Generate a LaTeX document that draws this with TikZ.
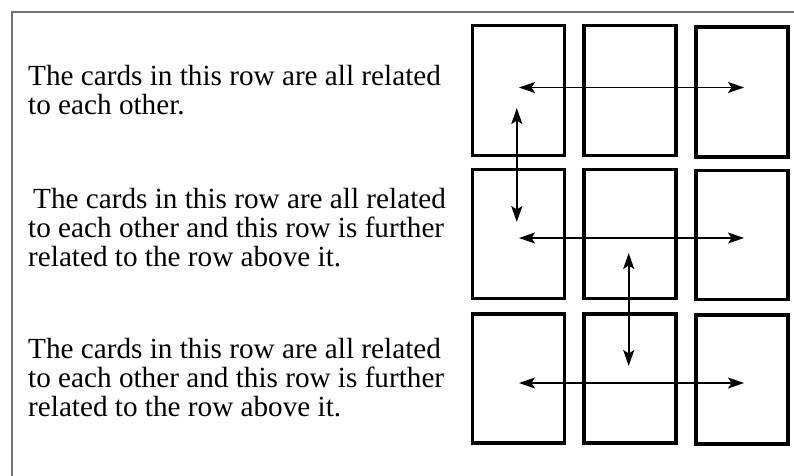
\documentclass[tikz,border=0pt]{standalone}
\usepackage{fontspec}
\setmainfont{Liberation Serif}
\usetikzlibrary{arrows.meta}
\begin{document}
\begin{tikzpicture}[x=1pt,y=-1pt,
  card/.style={draw=black, line width=3.6pt, rectangle, inner sep=0pt},
  rel/.style={line width=1.8pt, {Stealth[length=16pt,width=11pt,inset=3.5pt]}-{Stealth[length=16pt,width=11pt,inset=3.5pt]}},
  label/.style={anchor=base west, align=left, inner sep=0pt, font=\fontsize{29.2}{29}\selectfont},
  frameline/.style={draw=black!55, line width=1.5pt}]
\useasboundingbox (0,0) rectangle (794,475);
\fill[white] (0,0) rectangle (794,475);
% frame
\coordinate (fbl) at (12,476);
\coordinate (ftl) at (12,12);
\coordinate (ftr) at (795,12);
\draw[frameline] (fbl) -- (ftl) -- (ftr);
% cards
\node[card, minimum width=92pt, minimum height=130pt] (c11) at (518.5,90.5) {};
\node[card, minimum width=92pt, minimum height=130pt] (c12) at (630,90.5) {};
\node[card, minimum width=92pt, minimum height=130pt] (c13) at (742,92) {};
\node[card, minimum width=92pt, minimum height=129pt] (c21) at (518.5,234) {};
\node[card, minimum width=92pt, minimum height=129pt] (c22) at (630,234) {};
\node[card, minimum width=92pt, minimum height=129pt] (c23) at (742,235) {};
\node[card, minimum width=92pt, minimum height=129pt] (c31) at (518.5,378.5) {};
\node[card, minimum width=92pt, minimum height=129pt] (c32) at (630,378.5) {};
\node[card, minimum width=92pt, minimum height=129pt] (c33) at (742,379.5) {};
% arrow ends
\coordinate (h1a) at (519,87.5);
\coordinate (h1b) at (744,87.5);
\coordinate (h2a) at (519,238);
\coordinate (h2b) at (744,238);
\coordinate (h3a) at (519,383);
\coordinate (h3b) at (744,383);
\coordinate (v1a) at (516.8,108);
\coordinate (v1b) at (516.8,222);
\coordinate (v2a) at (628.7,253);
\coordinate (v2b) at (628.7,366);
\draw[rel] (h1a) -- (h1b);
\draw[rel] (h2a) -- (h2b);
\draw[rel] (h3a) -- (h3b);
\draw[rel] (v1a) -- (v1b);
\draw[rel] (v2a) -- (v2b);
% texts (anchor is the baseline of the last line)
\node[label] (t1) at (28,114) {The cards in this row are all related\\to each other.};
\node[label] (t2) at (28,266) {\hspace*{5pt}The cards in this row are all related\\to each other and this row is further\\related to the row above it.};
\node[label] (t3) at (28,416) {The cards in this row are all related\\to each other and this row is further\\related to the row above it.};
\end{tikzpicture}
\end{document}
